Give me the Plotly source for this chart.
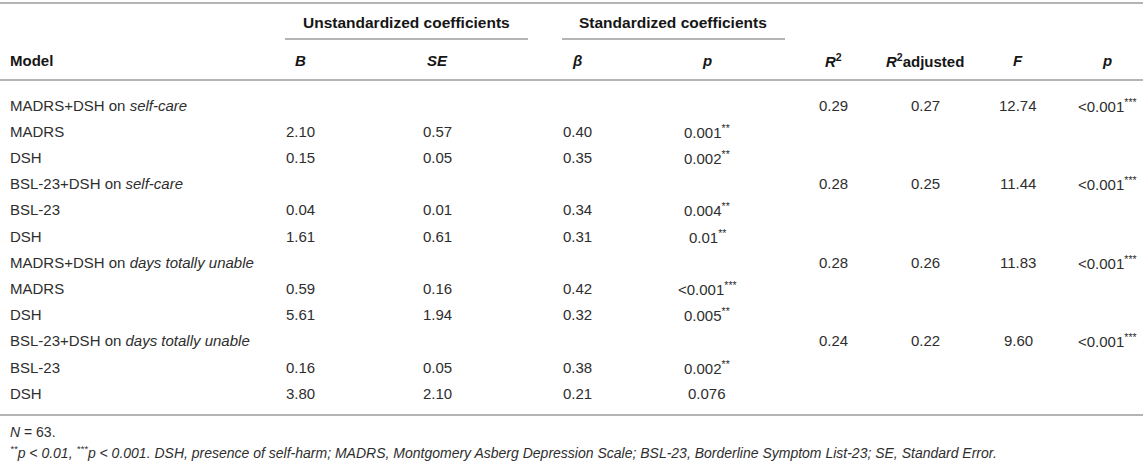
import plotly.graph_objects as go

# table content
models = [
    "MADRS+DSH on <i>self-care</i>",
    "BSL-23+DSH on <i>self-care</i>",
    "MADRS+DSH on <i>days totally unable</i>",
    "BSL-23+DSH on <i>days totally unable</i>",
]
model_r2 = ["0.29", "0.28", "0.28", "0.24"]
model_r2_adj = ["0.27", "0.25", "0.26", "0.22"]
model_f = ["12.74", "11.44", "11.83", "9.60"]
model_p = ["<0.001***", "<0.001***", "<0.001***", "<0.001***"]

predictors = [["MADRS", "DSH"], ["BSL-23", "DSH"], ["MADRS", "DSH"], ["BSL-23", "DSH"]]
b_vals = [["2.10", "0.15"], ["0.04", "1.61"], ["0.59", "5.61"], ["0.16", "3.80"]]
se_vals = [["0.57", "0.05"], ["0.01", "0.61"], ["0.16", "1.94"], ["0.05", "2.10"]]
beta_vals = [["0.40", "0.35"], ["0.34", "0.31"], ["0.42", "0.32"], ["0.38", "0.21"]]
p_vals = [["0.001**", "0.002**"], ["0.004**", "0.01**"], ["<0.001***", "0.005**"], ["0.002**", "0.076"]]

col_heads = ["<b>Model</b>", "<b><i>B</i></b>", "<b><i>SE</i></b>", "<b><i>β</i></b>", "<b><i>p</i></b>",
             "<b><i>R</i><sup>2</sup></b>", "<b><i>R</i><sup>2</sup>adjusted</b>", "<b><i>F</i></b>", "<b><i>p</i></b>"]
group_heads = ["<b>Unstandardized coefficients</b>", "<b>Standardized coefficients</b>"]
footnotes = [
    "<i>N</i> = 63.",
    "<i><sup>**</sup>p &lt; 0.01, <sup>***</sup>p &lt; 0.001. DSH, presence of self-harm; MADRS, Montgomery Asberg "
    "Depression Scale; BSL-23, Borderline Symptom List-23; SE, Standard Error.</i>",
]

W, H = 1143, 462
FONT = "Liberation Sans, Arial, Helvetica, sans-serif"
TXT = "#2e2e2e"
HEAD = "#161616"
LINE = "#b4b4b4"

col_x = [8, 300, 437, 577, 707, 833, 925, 1018, 1107]
row0, row_h = 105, 26.2


def fmt(s):
    # escape < and put significance stars in superscript
    s = s.replace("<", "&lt;")
    stars = len(s) - len(s.rstrip("*"))
    if stars:
        s = s[:-stars] + "<sup>" + "*" * stars + "</sup>"
    return s


fig = go.Figure()
ann = []


def cell(x, y, text, anchor="center", size=15, color=TXT):
    ann.append(dict(x=x, y=y, xref="x", yref="y", text=text, showarrow=False,
                    xanchor=anchor, yanchor="middle",
                    font=dict(family=FONT, size=size, color=color)))


# header
cell(406, 22, group_heads[0], size=15.5, color=HEAD)
cell(673, 22, group_heads[1], size=15.5, color=HEAD)
for i, h in enumerate(col_heads):
    cell(col_x[i], 60, h, anchor="left" if i == 0 else "center", color=HEAD)

# body
r = 0
for m in range(len(models)):
    y = row0 + r * row_h
    cell(col_x[0], y, models[m], anchor="left")
    cell(col_x[5], y, model_r2[m])
    cell(col_x[6], y, model_r2_adj[m])
    cell(col_x[7], y, model_f[m])
    cell(col_x[8], y, fmt(model_p[m]))
    r += 1
    for k in range(len(predictors[m])):
        y = row0 + r * row_h
        cell(col_x[0], y, predictors[m][k], anchor="left")
        cell(col_x[1], y, b_vals[m][k])
        cell(col_x[2], y, se_vals[m][k])
        cell(col_x[3], y, beta_vals[m][k])
        cell(col_x[4], y, fmt(p_vals[m][k]))
        r += 1

cell(8, 432, footnotes[0], anchor="left", size=14)
cell(8, 452, footnotes[1], anchor="left", size=14)

# rules
shapes = [
    dict(type="line", x0=0, x1=W, y0=3, y1=3),
    dict(type="line", x0=285, x1=528, y0=39, y1=39),
    dict(type="line", x0=562, x1=785, y0=39, y1=39),
    dict(type="line", x0=0, x1=W, y0=80, y1=80),
    dict(type="line", x0=0, x1=W, y0=415, y1=415),
]
for s in shapes:
    s.update(xref="x", yref="y", line=dict(color=LINE, width=2))

fig.update_layout(
    width=W, height=H,
    margin=dict(l=0, r=0, t=0, b=0),
    paper_bgcolor="white", plot_bgcolor="white",
    annotations=ann, shapes=shapes,
    xaxis=dict(range=[0, W], visible=False, fixedrange=True),
    yaxis=dict(range=[H, 0], visible=False, fixedrange=True),
    showlegend=False,
)

# drop the page's default body margin so the figure sits at the window's corner
fig.write_html("out.html", config={"displayModeBar": False},
               post_script="document.body.style.margin='0px';")
